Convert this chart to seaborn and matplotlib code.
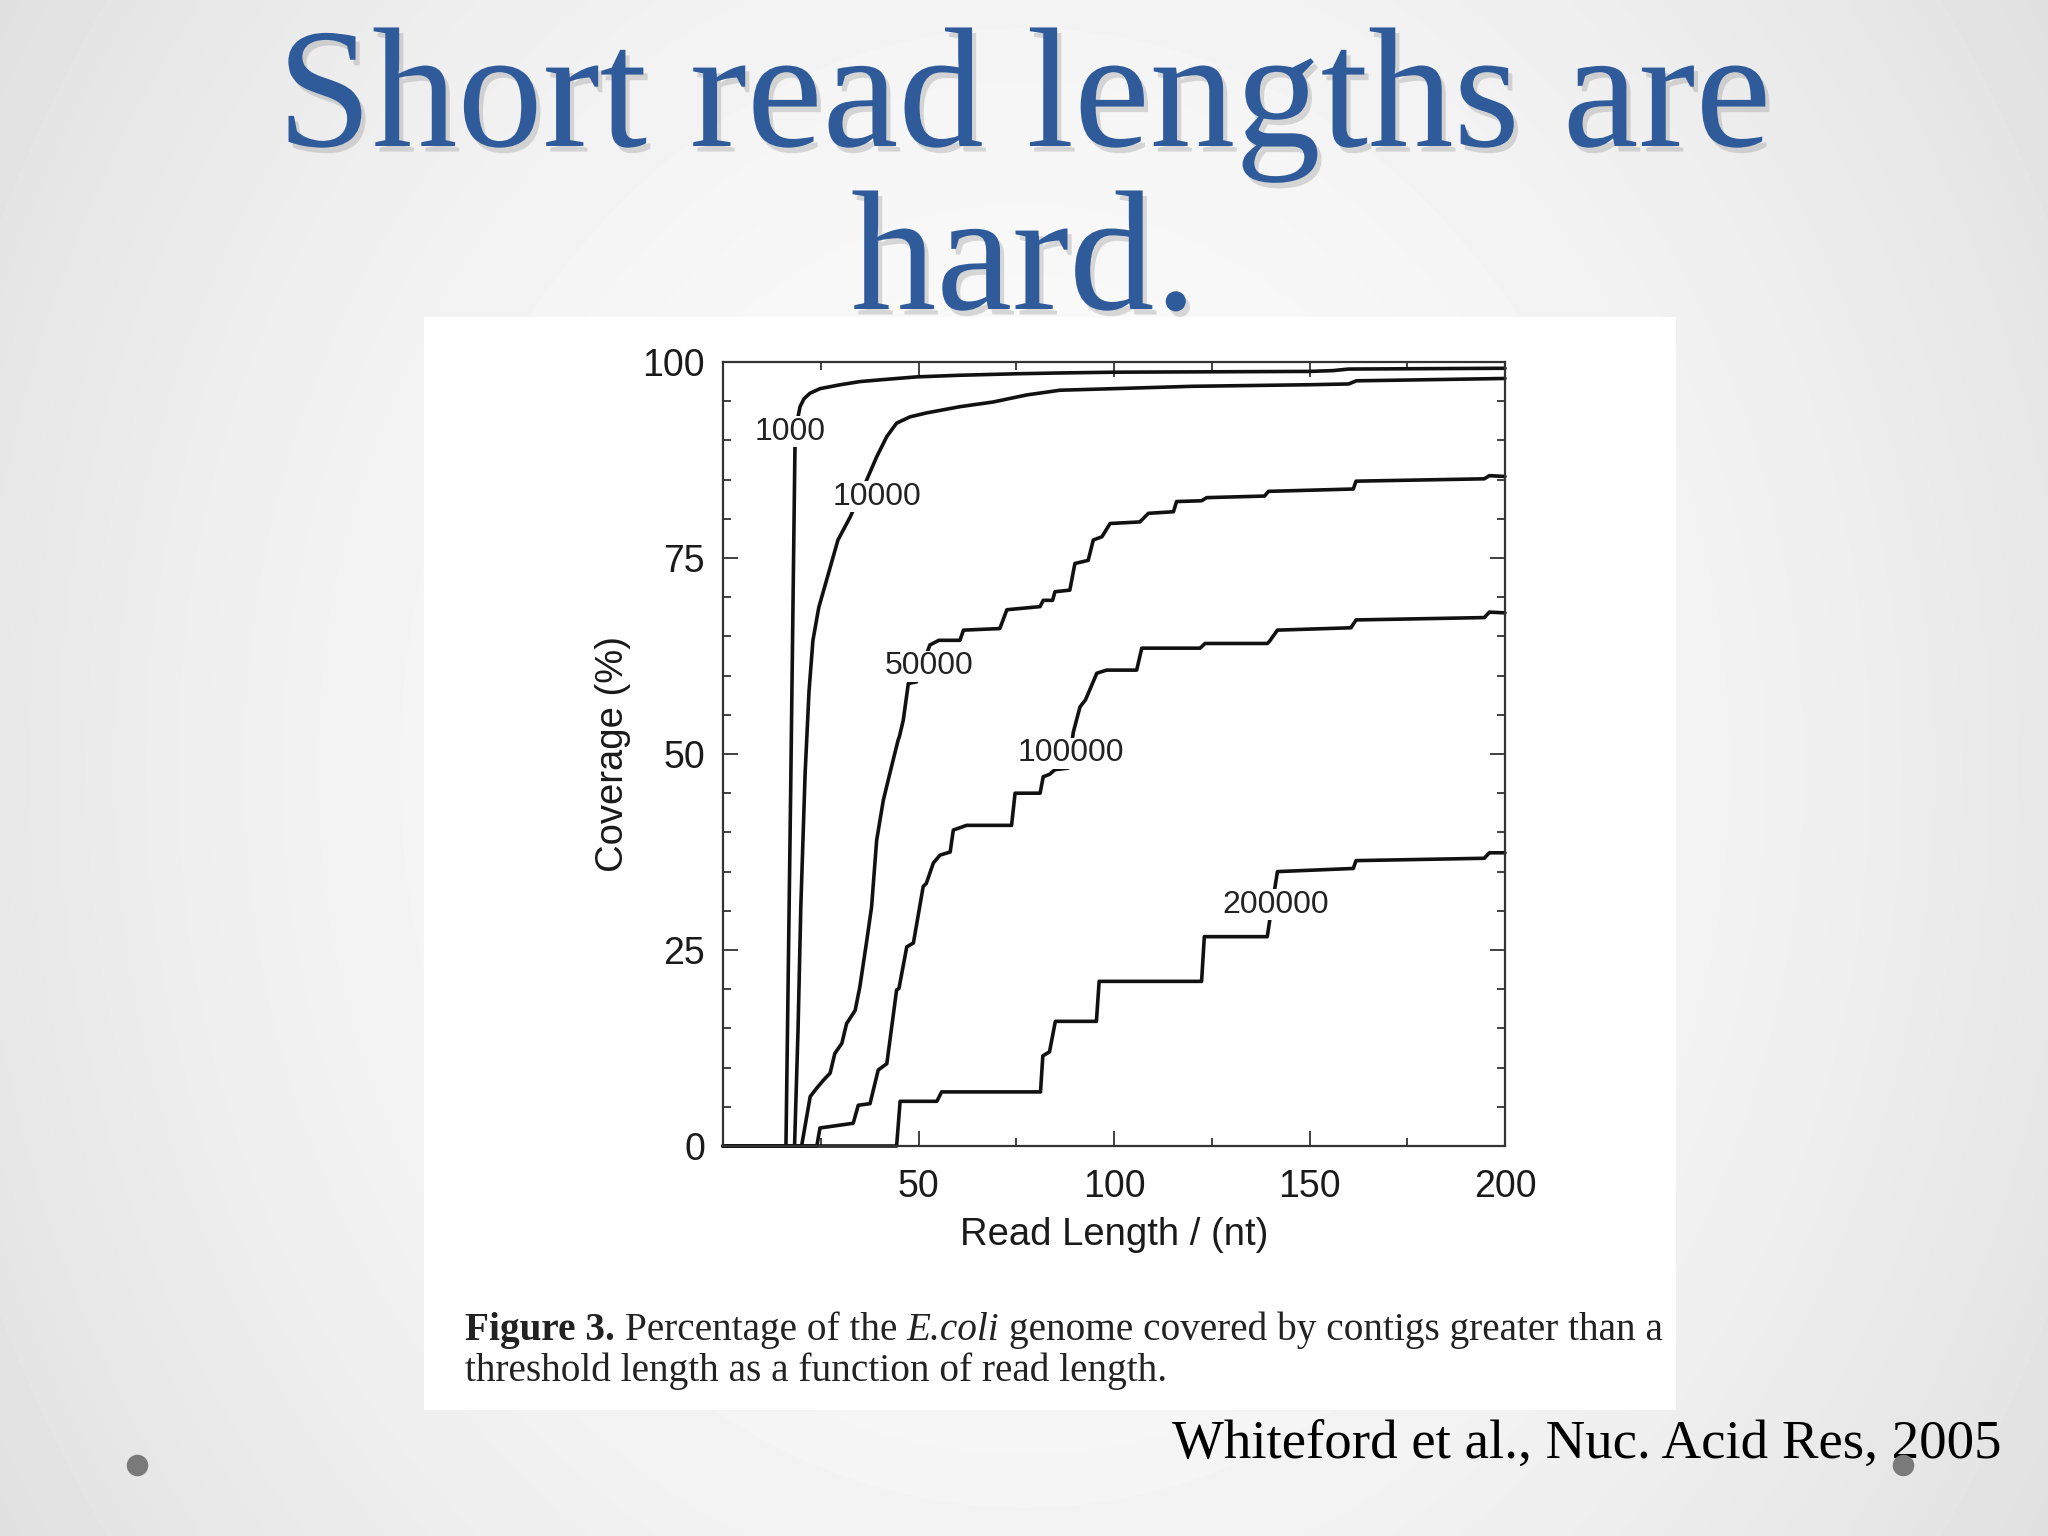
import numpy as np
import pandas as pd
import matplotlib
matplotlib.use("Agg")
import matplotlib.pyplot as plt
import matplotlib.patheffects as pe
from matplotlib.patches import Rectangle
from matplotlib.lines import Line2D
from matplotlib.text import Annotation
from matplotlib.ticker import MultipleLocator, FixedLocator
import seaborn as sns

# ---------------- data ----------------
thresholds = ["1000", "10000", "50000", "100000", "200000"]

x_1000 = [0, 16.1, 17.3, 18.4, 19.0, 19.7, 20.7, 22.2, 24.8, 30.0, 35.0, 42.0, 49.5,
          60.0, 75.0, 86.0, 100.0, 125.0, 150.0, 156.0, 160.0, 180.0, 200.0]
y_1000 = [0, 0, 45.0, 89.0, 92.5, 94.3, 95.3, 96.0, 96.6, 97.1, 97.5, 97.8, 98.1,
          98.3, 98.5, 98.6, 98.7, 98.75, 98.8, 98.9, 99.1, 99.15, 99.2]

x_10000 = [0, 18.3, 19.2, 19.9, 21.0, 22.0, 23.0, 24.5, 26.5, 29.4, 32.5, 36.7, 39.3,
           41.9, 44.4, 47.8, 52.0, 56.3, 60.6, 69.1, 77.7, 86.2, 100.0, 120.0, 150.0,
           160.0, 162.0, 175.0, 200.0]
y_10000 = [0, 0, 15.0, 30.5, 47.5, 58.0, 64.5, 68.7, 72.2, 77.3, 80.2, 84.9, 87.9,
           90.5, 92.2, 93.0, 93.5, 93.9, 94.3, 94.9, 95.8, 96.4, 96.6, 96.9, 97.1,
           97.2, 97.6, 97.7, 97.9]

x_50000 = [0, 20.1, 22.3, 24.0, 25.7, 27.4, 28.6, 30.4, 31.6, 33.8, 35.0, 36.8, 38.0,
           39.3, 41.0, 43.1, 44.8, 45.1, 46.1, 47.4, 49.5, 52.9, 55.2, 60.6, 61.5,
           70.8, 72.6, 81.1, 81.9, 84.3, 84.9, 88.7, 90.0, 93.4, 94.7, 96.9, 99.0,
           106.6, 108.8, 115.2, 116.0, 122.4, 123.7, 138.5, 139.5, 161.2, 161.9,
           194.7, 196.0, 200.0]
y_50000 = [0, 0, 6.3, 7.4, 8.4, 9.3, 11.8, 13.1, 15.6, 17.3, 20.3, 26.3, 30.5,
           39.0, 44.1, 48.4, 51.8, 52.2, 54.3, 59.0, 59.2, 63.9, 64.5, 64.5, 65.8,
           66.0, 68.4, 68.8, 69.6, 69.6, 70.7, 70.9, 74.3, 74.7, 77.3, 77.7, 79.4,
           79.6, 80.7, 80.9, 82.2, 82.3, 82.7, 82.9, 83.5, 83.8, 84.8,
           85.1, 85.5, 85.4]

x_100000 = [0, 24.0, 24.8, 33.3, 34.6, 37.6, 39.7, 41.9, 44.4, 45.0, 47.0, 48.7, 51.2,
            52.0, 53.8, 55.5, 58.1, 58.9, 62.3, 73.8, 74.7, 81.1, 81.9, 83.5, 84.9,
            88.3, 89.6, 91.3, 92.7, 95.6, 98.1, 105.8, 107.1, 122.0, 123.3, 139.2,
            139.8, 141.8, 160.6, 161.9, 194.7, 196.0, 200.0]
y_100000 = [0, 0, 2.3, 2.9, 5.2, 5.4, 9.7, 10.5, 19.9, 20.1, 25.4, 25.9, 33.1,
            33.5, 36.1, 37.1, 37.5, 40.3, 40.9, 40.9, 45.0, 45.0, 47.1, 47.4, 48.0,
            48.2, 52.8, 56.0, 56.9, 60.3, 60.7, 60.7, 63.5, 63.5, 64.1, 64.1,
            64.4, 65.8, 66.1, 67.1, 67.4, 68.1, 68.0]

x_200000 = [0, 44.4, 45.3, 54.7, 55.9, 81.2, 81.8, 83.5, 85.0, 95.5, 96.2, 122.4,
            123.1, 139.2, 139.8, 141.8, 161.2, 161.9, 194.7, 196.0, 200.0]
y_200000 = [0, 0, 5.7, 5.7, 6.9, 6.9, 11.5, 12.0, 15.9, 15.9, 21.0, 21.0,
            26.7, 26.7, 28.7, 35.0, 35.4, 36.4, 36.7, 37.4, 37.4]

# curve label positions (data coords)
label_x = [17.1, 39.3, 52.7, 88.9, 141.3]
label_y = [91.1, 82.8, 61.2, 50.1, 30.8]

x_ticks = [50, 100, 150, 200]
x_minor = [25, 75, 125, 175]

title_lines = ["Short read lengths are", "hard."]
caption_parts = [("Figure 3.", "bold", "normal"),
                 ("Percentage of the", "normal", "normal"),
                 ("E.coli", "normal", "italic"),
                 ("genome covered by contigs greater than a", "normal", "normal")]
caption_2 = "threshold length as a function of read length."
citation = "Whiteford et al., Nuc. Acid Res, 2005"

# ---------------- build table ----------------
series = {"1000": (x_1000, y_1000), "10000": (x_10000, y_10000),
          "50000": (x_50000, y_50000), "100000": (x_100000, y_100000),
          "200000": (x_200000, y_200000)}
frames = []
for k in thresholds:
    xs, ys = series[k]
    frames.append(pd.DataFrame({"read_length": xs, "coverage": ys, "threshold": k}))
df = pd.concat(frames, ignore_index=True)

# ---------------- style ----------------
sns.set_theme(style="ticks")
plt.rcParams['font.family'] = ['Liberation Sans', 'DejaVu Sans']

W, H = 2048, 1536
fig = plt.figure(figsize=(20.48, 15.36), dpi=100)

# slide background gradient
bg = fig.add_axes([0, 0, 1, 1], zorder=0)
gx = np.linspace(-1, 1, 512)
gy = np.linspace(-1, 1, 384)
GX, GY = np.meshgrid(gx, gy)
val = 0.985 - 0.075 * GX ** 2 - 0.03 * GY ** 2
bg.imshow(val, cmap='gray', vmin=0, vmax=1, extent=[0, 1, 0, 1],
          aspect='auto', interpolation='bilinear')
bg.set_xlim(0, 1)
bg.set_ylim(0, 1)
bg.set_axis_off()
# white picture box
bg.add_patch(Rectangle((424 / W, 1 - 1410 / H), (1676 - 424) / W, (1410 - 317) / H,
                       transform=bg.transAxes, fc='white', ec='none'))

# main axes
ax = fig.add_axes([723 / W, 1 - 1146 / H, 782 / W, 784 / H], zorder=2)
ax.set_facecolor('white')
palette = {k: '#111111' for k in thresholds}
sns.lineplot(data=df, x="read_length", y="coverage", hue="threshold",
             palette=palette, estimator=None, sort=False, legend=False,
             linewidth=2.6, ax=ax)
for ln in ax.lines:
    ln.set_clip_on(False)

ax.set_xlim(0, 200)
ax.set_ylim(0, 100)
ax.xaxis.set_major_locator(FixedLocator(x_ticks))
ax.xaxis.set_minor_locator(FixedLocator(x_minor))
ax.yaxis.set_major_locator(MultipleLocator(25))
ax.yaxis.set_minor_locator(MultipleLocator(5))
ax.tick_params(which='both', direction='in', top=True, right=True, bottom=True,
               left=True, color='#333333', width=1.3, labelcolor='#1a1a1a')
ax.tick_params(which='major', length=10.5, labelsize=27)
ax.tick_params(which='minor', length=5.5)
ax.tick_params(axis='y', which='major', pad=13)
ax.tick_params(axis='x', which='major', pad=16.5)
for s in ax.spines.values():
    s.set_linewidth(1.6)
    s.set_color('#333333')
    s.set_visible(True)

ax.set_xlabel("Read Length / (nt)", fontsize=27.5, labelpad=9, color='#1a1a1a')
ax.set_ylabel("Coverage (%)", fontsize=27.5, labelpad=8, color='#1a1a1a')

for name, lx, ly in zip(thresholds, label_x, label_y):
    ax.text(lx, ly, name, ha='center', va='center', fontsize=23, color='#222222',
            bbox=dict(fc='white', ec='none', pad=0.5), zorder=5)

# title
shadow = [pe.SimplePatchShadow(offset=(3, -4), shadow_rgbFace='#888888', alpha=0.3),
          pe.Normal()]
fig.text(0.5, 1 - 146 / H, title_lines[0], ha='center', va='baseline', fontsize=123,
         family='Liberation Serif', color='#2f5b9b', path_effects=shadow, zorder=5)
fig.text(0.5, 1 - 309 / H, title_lines[1], ha='center', va='baseline', fontsize=123,
         family='Liberation Serif', color='#2f5b9b', path_effects=shadow, zorder=5)

# caption: line 1 built from chained pieces (bold / italic), line 2 plain
cap_fs = 28.3
space_px = 0.25 * cap_fs * 100 / 72
txt0, wt0, st0 = caption_parts[0]
anchor = fig.text(465 / W, 1 - 1340 / H, txt0, ha='left', va='baseline',
                  fontsize=cap_fs, family='Liberation Serif', weight=wt0,
                  style=st0, color='#222222', zorder=5)
for txt, wt, st in caption_parts[1:]:
    anchor = fig.add_artist(Annotation(
        txt, xy=(1, 0), xycoords=anchor, xytext=(space_px, 0),
        textcoords='offset pixels', ha='left', va='bottom', fontsize=cap_fs,
        family='Liberation Serif', weight=wt, style=st, color='#222222',
        zorder=5))
fig.text(465 / W, 1 - 1381 / H, caption_2, ha='left', va='baseline', fontsize=cap_fs,
         family='Liberation Serif', color='#222222', zorder=5)

# citation
fig.text(1172 / W, 1 - 1458 / H, citation, ha='left', va='baseline', fontsize=39.5,
         family='Liberation Serif', color='black', zorder=5)

# slide bullets
for px in (137, 1903):
    fig.add_artist(Line2D([px / W], [1 - 1465 / H], marker='o', ms=14.5,
                          color='#7a7a7a', linestyle='none',
                          transform=fig.transFigure, zorder=6))

fig.savefig("out.png", dpi=100)
